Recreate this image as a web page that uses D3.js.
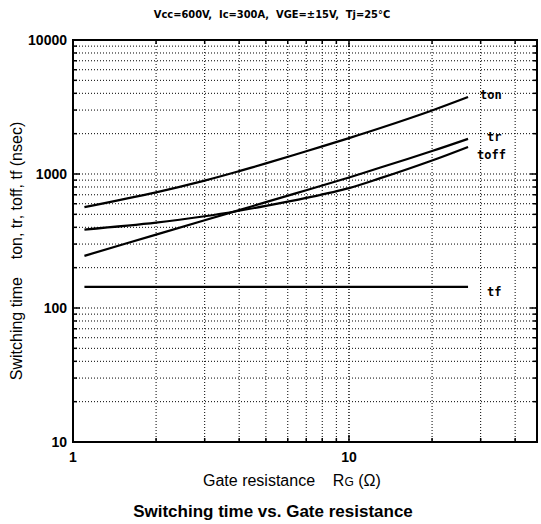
<!DOCTYPE html>
<html>
<head>
<meta charset="utf-8">
<script src="https://cdn.jsdelivr.net/npm/d3@7"></script>
<style>
  body { margin: 0; background: #fff; }
  svg { display: block; }
  text { white-space: pre; }
</style>
</head>
<body>
<div id="chart"></div>
<script>
// Gate resistance (ohm)
const rg = [1.1, 2, 3, 4, 5, 7, 10, 13, 20, 27];
const ton = [566, 730, 893, 1050, 1200, 1479, 1853, 2203, 2979, 3750];
const tr = [245, 353, 452, 538, 617, 757, 942, 1117, 1483, 1828];
const toff = [385, 434, 484, 532, 578, 663, 785, 931, 1262, 1593];
const tfRg = [1.1, 27];
const tf = [144, 144];

const yTickLabels = [10, 100, 1000, 10000];
const xTickLabels = [1, 10];

const width = 541, height = 524;
const plotL = 73, plotR = 537, plotT = 40, plotB = 442;

const svg = d3.select("#chart").append("svg")
  .attr("width", width).attr("height", height);

const x = d3.scaleLog().domain([1, 48]).range([plotL, plotR]);
const y = d3.scaleLog().domain([10, 10000]).range([plotB, plotT]);

// minor values for grid
const xMinor = [];
[1, 10].forEach(d => { for (let k = 2; k <= 9; k++) if (d * k < 48) xMinor.push(d * k); });
const yMinor = [];
[10, 100, 1000].forEach(d => { for (let k = 2; k <= 9; k++) yMinor.push(d * k); });

const grid = svg.append("g").attr("stroke", "#000").attr("fill", "none");
grid.selectAll(".vg").data(xMinor.concat([10])).enter().append("line")
  .attr("x1", d => x(d)).attr("x2", d => x(d))
  .attr("y1", plotT).attr("y2", plotB)
  .attr("stroke-width", d => d === 10 ? 1.4 : 1)
  .attr("stroke-dasharray", "1,2");
grid.selectAll(".hg").data(yMinor.concat([100, 1000])).enter().append("line")
  .attr("x1", plotL).attr("x2", plotR)
  .attr("y1", d => y(d)).attr("y2", d => y(d))
  .attr("stroke-width", 1)
  .attr("stroke-dasharray", "1,2");

// tick marks on all four sides
const tickG = svg.append("g").attr("stroke", "#000").attr("stroke-width", 1.5);
yMinor.concat([100, 1000]).forEach(d => {
  const len = [100, 1000].includes(d) ? 7 : 4;
  tickG.append("line").attr("x1", plotL).attr("x2", plotL + len).attr("y1", y(d)).attr("y2", y(d));
  tickG.append("line").attr("x1", plotR).attr("x2", plotR - len).attr("y1", y(d)).attr("y2", y(d));
});
xMinor.concat([10]).forEach(d => {
  const len = d === 10 ? 7 : 4;
  tickG.append("line").attr("x1", x(d)).attr("x2", x(d)).attr("y1", plotB).attr("y2", plotB - len);
  tickG.append("line").attr("x1", x(d)).attr("x2", x(d)).attr("y1", plotT).attr("y2", plotT + len);
});

// frame
svg.append("rect")
  .attr("x", plotL).attr("y", plotT)
  .attr("width", plotR - plotL).attr("height", plotB - plotT)
  .attr("fill", "none").attr("stroke", "#000").attr("stroke-width", 2);

// tick labels
svg.append("g").selectAll("text").data(yTickLabels).enter().append("text")
  .attr("x", plotL - 6).attr("y", d => y(d) + 5)
  .attr("text-anchor", "end")
  .attr("font-family", "Liberation Sans, Arial, sans-serif")
  .attr("font-weight", "bold").attr("font-size", 14)
  .text(d => d);
svg.append("g").selectAll("text").data(xTickLabels).enter().append("text")
  .attr("x", d => x(d)).attr("y", plotB + 20)
  .attr("text-anchor", "middle")
  .attr("font-family", "Liberation Sans, Arial, sans-serif")
  .attr("font-weight", "bold").attr("font-size", 14)
  .text(d => d);

// curves
const line = d3.line()
  .x(d => x(d[0])).y(d => y(d[1]))
  .curve(d3.curveCatmullRom.alpha(0.5));
const series = [
  { name: "ton", xs: rg, ys: ton, lx: 480, ly: 99 },
  { name: "tr", xs: rg, ys: tr, lx: 487, ly: 141 },
  { name: "toff", xs: rg, ys: toff, lx: 477, ly: 159 },
  { name: "tf", xs: tfRg, ys: tf, lx: 487, ly: 296 }
];
svg.append("g").selectAll("path").data(series).enter().append("path")
  .attr("d", s => line(s.xs.map((v, i) => [v, s.ys[i]])))
  .attr("fill", "none").attr("stroke", "#000").attr("stroke-width", 2.2);

svg.append("g").selectAll("text").data(series).enter().append("text")
  .attr("x", s => s.lx).attr("y", s => s.ly)
  .attr("font-family", "DejaVu Sans Mono, monospace")
  .attr("font-weight", "bold").attr("font-size", 12)
  .text(s => s.name);

// condition line at top
svg.append("text")
  .attr("x", 272).attr("y", 18)
  .attr("text-anchor", "middle")
  .attr("font-family", "DejaVu Sans Condensed, sans-serif")
  .attr("font-weight", "bold").attr("font-size", 11)
  .text("Vcc=600V,  Ic=300A,  VGE=±15V,  Tj=25°C");

// axis titles
const xt = svg.append("text")
  .attr("x", 203).attr("y", 486)
  .attr("font-family", "Liberation Sans, Arial, sans-serif")
  .attr("font-size", 16);
xt.append("tspan").text("Gate resistance    R");
xt.append("tspan").attr("font-size", 12).text("G");
xt.append("tspan").text(" (Ω)");

svg.append("text")
  .attr("transform", `translate(22, 251) rotate(-90)`)
  .attr("text-anchor", "middle")
  .attr("font-family", "Liberation Sans, Arial, sans-serif")
  .attr("font-size", 16)
  .text("Switching time    ton, tr, toff, tf (nsec)");

svg.append("text")
  .attr("x", 273).attr("y", 517)
  .attr("text-anchor", "middle")
  .attr("font-family", "Liberation Sans, Arial, sans-serif")
  .attr("font-weight", "bold").attr("font-size", 17)
  .text("Switching time vs. Gate resistance");
</script>
</body>
</html>
